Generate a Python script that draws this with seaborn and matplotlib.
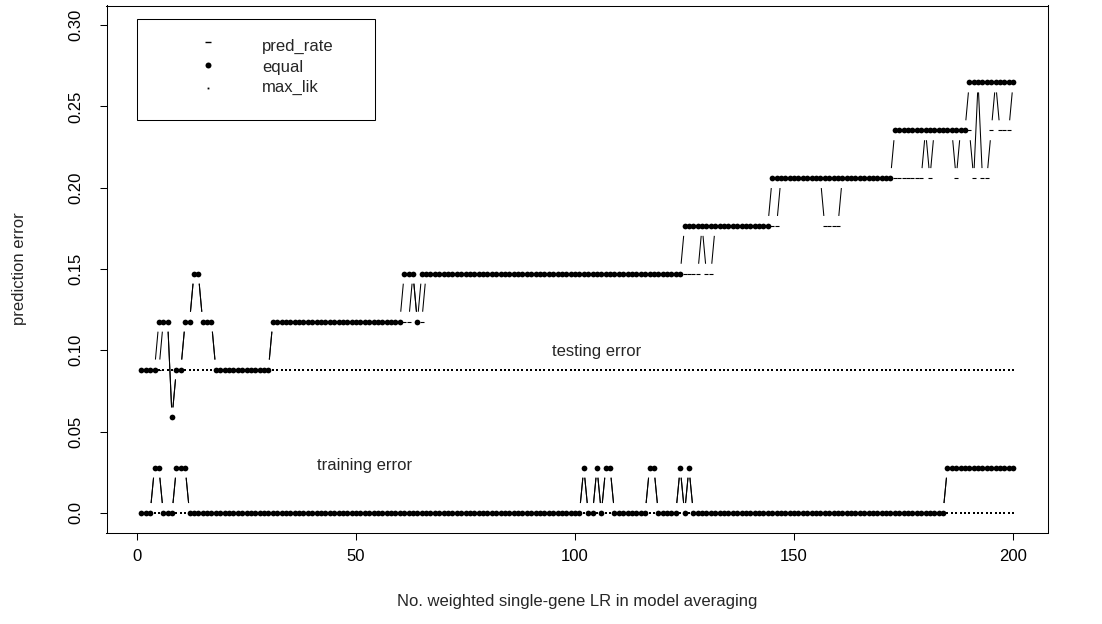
import numpy as np
import pandas as pd
import matplotlib
matplotlib.use("Agg")
import matplotlib.pyplot as plt
import seaborn as sns
from matplotlib.collections import LineCollection
from matplotlib.patches import Rectangle

# ---------------- data (run-length encoded, x = 1..200) ----------------
n_models = np.arange(1, 201)

test_equal_levels = [0.0882, 0.1176, 0.0588, 0.0882, 0.1176, 0.1471, 0.1176, 0.0882,
                     0.1176, 0.1471, 0.1176, 0.1471, 0.1765, 0.2059, 0.2353, 0.2647]
test_equal_runs = [4, 3, 1, 2, 2, 2, 3, 13, 30, 3, 1, 60, 20, 28, 17, 11]

test_pred_levels = [0.0882, 0.1176, 0.0588, 0.0882, 0.1176, 0.1471, 0.1176, 0.0882,
                    0.1176, 0.1471, 0.1176, 0.1471, 0.1765, 0.1471, 0.1765, 0.2059,
                    0.1765, 0.2059, 0.2353, 0.2059, 0.2353, 0.2059, 0.2353, 0.2059,
                    0.2647, 0.2059, 0.2353, 0.2647, 0.2353, 0.2647]
test_pred_runs = [5, 2, 1, 2, 2, 2, 3, 13, 32, 1, 2, 63, 1, 2, 15, 10, 4, 19, 1, 1,
                  5, 1, 3, 1, 1, 2, 1, 1, 3, 1]

test_maxlik_levels = [0.0882]
test_maxlik_runs = [200]

train_equal_levels = [0.0, 0.0278, 0.0, 0.0278, 0.0, 0.0278, 0.0, 0.0278, 0.0, 0.0278,
                      0.0, 0.0278, 0.0, 0.0278, 0.0, 0.0278, 0.0, 0.0278]
train_equal_runs = [3, 2, 3, 3, 90, 1, 2, 1, 1, 2, 8, 2, 5, 1, 1, 1, 58, 16]

train_pred_levels = train_equal_levels
train_pred_runs = train_equal_runs

train_maxlik_levels = [0.0]
train_maxlik_runs = [200]

legend_labels = ["pred_rate", "equal", "max_lik"]
x_ticks = [0, 50, 100, 150, 200]
y_ticks = [0.0, 0.05, 0.10, 0.15, 0.20, 0.25, 0.30]
y_tick_labels = ["0.0", "0.05", "0.10", "0.15", "0.20", "0.25", "0.30"]


def expand(levels, runs):
    return np.repeat(np.array(levels, dtype=float), runs)


series = {
    "test_pred": expand(test_pred_levels, test_pred_runs),
    "test_equal": expand(test_equal_levels, test_equal_runs),
    "test_maxlik": expand(test_maxlik_levels, test_maxlik_runs),
    "train_pred": expand(train_pred_levels, train_pred_runs),
    "train_equal": expand(train_equal_levels, train_equal_runs),
    "train_maxlik": expand(train_maxlik_levels, train_maxlik_runs),
}

# ---------------- styling ----------------
sns.set_theme(style="white")
plt.rcParams["font.family"] = ["Liberation Sans", "DejaVu Sans"]
plt.rcParams["axes.edgecolor"] = "black"
plt.rcParams["axes.linewidth"] = 0.75

W, H = 1102, 624
fig = plt.figure(figsize=(W / 100, H / 100), dpi=100)
left, right, top, bottom = 106.5, 1048.0, 5.5, 532.5
ax = fig.add_axes([left / W, 1 - bottom / H, (right - left) / W, (bottom - top) / H])
ax.set_xlim(1 - 0.04 * 199, 200 + 0.04 * 199)
ax.set_ylim(-0.012, 0.312)

GAP = 10.0  # pixels, R type="b" gap


def gapped_segments(xv, yv):
    pts = ax.transData.transform(np.column_stack([xv, yv]))
    segs = []
    for p0, p1 in zip(pts[:-1], pts[1:]):
        d = np.hypot(*(p1 - p0))
        if d > 2 * GAP:
            u = (p1 - p0) / d
            a = p0 + u * GAP
            b = p1 - u * GAP
            segs.append(ax.transData.inverted().transform(np.array([a, b])))
    return segs


def draw_series(yv, kind):
    segs = gapped_segments(n_models, yv)
    if segs:
        ax.add_collection(LineCollection(segs, colors="black", linewidths=0.75))
    df = pd.DataFrame({"x": n_models, "y": yv})
    if kind == "pred":
        sns.scatterplot(data=df, x="x", y="y", marker="_", s=12, color="black",
                        linewidth=0.8, ax=ax, legend=False)
    elif kind == "equal":
        sns.scatterplot(data=df, x="x", y="y", marker="o", s=17, color="black",
                        linewidth=0, ax=ax, legend=False)
    else:
        sns.scatterplot(data=df, x="x", y="y", marker="s", s=1.3, color="black",
                        linewidth=0, ax=ax, legend=False)


for grp in ["test", "train"]:
    draw_series(series[grp + "_pred"], "pred")
    draw_series(series[grp + "_equal"], "equal")
    draw_series(series[grp + "_maxlik"], "maxlik")

ax.set_xlim(1 - 0.04 * 199, 200 + 0.04 * 199)
ax.set_ylim(-0.012, 0.312)

# annotations
ax.text(105, 0.099, "testing error", ha="center", va="center", fontsize=12)
ax.text(52, 0.029, "training error", ha="center", va="center", fontsize=12)

# legend box (R style)
ax.add_patch(Rectangle((0, 0.2415), 54.3, 0.3040 - 0.2415, fill=False,
                       edgecolor="black", linewidth=0.75))
leg_y = [0.2870, 0.2740, 0.2615]
ax.plot([16.3], [leg_y[0] + 0.0025], marker="_", ms=4.5, mew=1.0, color="black", ls="none")
ax.plot([16.3], [leg_y[1] + 0.0012], marker="o", ms=4.3, mew=0, color="black", ls="none")
ax.plot([16.3], [leg_y[2]], marker="s", ms=1.3, mew=0, color="black", ls="none")
for yy, lab in zip(leg_y, legend_labels):
    ax.text(28.5, yy, lab, ha="left", va="center", fontsize=12)

# axes
ax.set_xticks(x_ticks)
ax.set_xticklabels([str(t) for t in x_ticks])
ax.set_yticks(y_ticks)
ax.set_yticklabels(y_tick_labels, rotation=90, va="center")
ax.tick_params(axis="both", direction="out", length=5.2, width=0.75, labelsize=12,
               color="black", labelcolor="black", bottom=True, left=True)
ax.tick_params(axis="x", pad=6.6)
ax.tick_params(axis="y", pad=11.2)
ax.set_xlabel("No. weighted single-gene LR in model averaging", fontsize=12, labelpad=22)
ax.set_ylabel("prediction error", fontsize=12, labelpad=30)
for s in ax.spines.values():
    s.set_visible(True)
    s.set_color("black")
    s.set_linewidth(0.75)

fig.savefig("out.png", dpi=100)
